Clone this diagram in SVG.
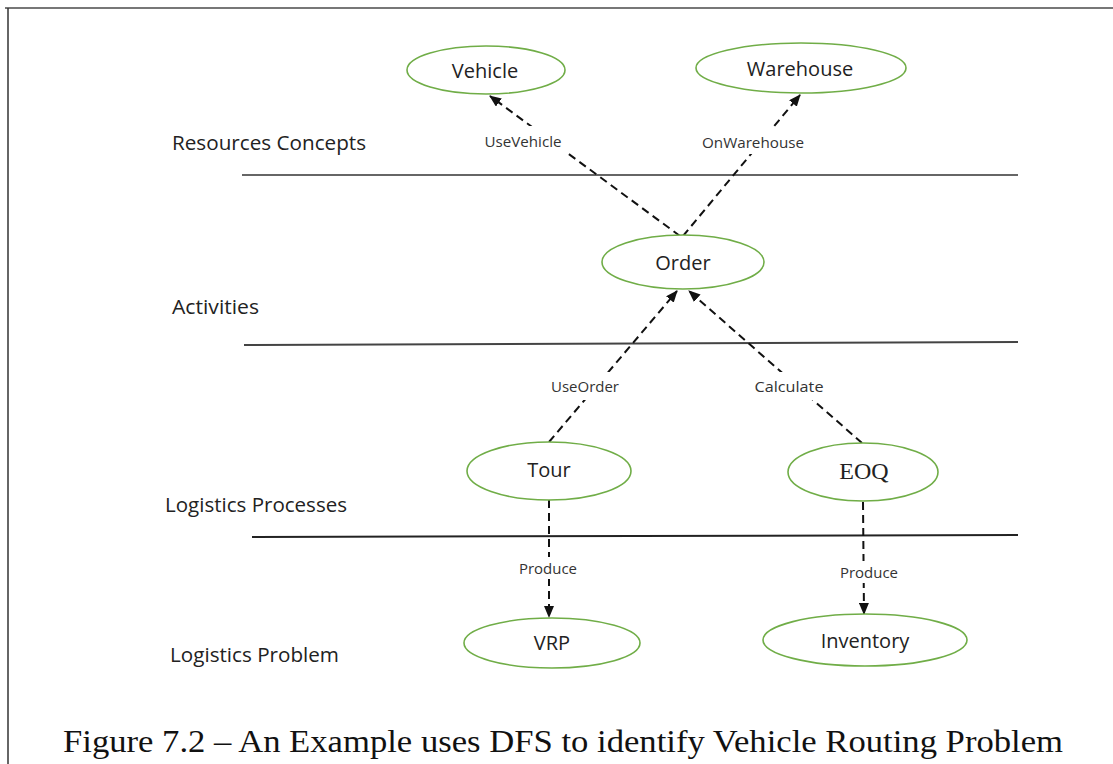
<svg xmlns="http://www.w3.org/2000/svg" width="1113" height="764" viewBox="0 0 1113 764">
<style>
.node{fill:#fff;stroke:#70ad47;stroke-width:1.6}
.nt{font-family:"Open Sans",sans-serif;font-size:20px;fill:#222;text-anchor:middle}
.lane{font-family:"Open Sans",sans-serif;font-size:20px;fill:#222}
.el{font-family:"Open Sans",sans-serif;font-size:15px;fill:#333;text-anchor:middle}
.edge{fill:none;stroke:#111;stroke-width:2;stroke-dasharray:8 5}
.sep{stroke:#666;stroke-width:2;fill:none}
.lbg{fill:#fff}
</style>
<defs>
<marker id="arr" viewBox="0 0 12 10" refX="11" refY="5" markerWidth="12" markerHeight="10" markerUnits="userSpaceOnUse" orient="auto">
<path d="M0,0 L12,5 L0,10 Z" fill="#111"/>
</marker>
</defs>
<rect width="1113" height="764" fill="#fff"/>
<g id="frame">
<line x1="5" y1="8" x2="1113" y2="8" stroke="#777" stroke-width="2"/>
<line x1="8" y1="8" x2="8" y2="764" stroke="#333" stroke-width="1.5"/>
</g>
<g id="lanes">
<line class="sep" x1="242" y1="175" x2="1018" y2="175" stroke="#888"/>
<line class="sep" x1="244" y1="345" x2="1018" y2="342" stroke-width="1.5" style="stroke:#444"/>
<line class="sep" x1="252" y1="537" x2="1018" y2="535" stroke-width="1.5" style="stroke:#222"/>
<text class="lane" x="172" y="150" textLength="194" lengthAdjust="spacingAndGlyphs">Resources Concepts</text>
<text class="lane" x="172" y="314" textLength="87" lengthAdjust="spacingAndGlyphs">Activities</text>
<text class="lane" x="165" y="512" textLength="182" lengthAdjust="spacingAndGlyphs">Logistics Processes</text>
<text class="lane" x="170" y="662" textLength="169" lengthAdjust="spacingAndGlyphs">Logistics Problem</text>
</g>
<g id="connectors">
<path class="edge" d="M680,236 L490,96" marker-end="url(#arr)"/>
<path class="edge" d="M683,236 L800,95" marker-end="url(#arr)"/>
<path class="edge" d="M549,442 L677,291" marker-end="url(#arr)"/>
<path class="edge" d="M862,443 L689,291" marker-end="url(#arr)"/>
<path class="edge" d="M549,500 L549,617" marker-end="url(#arr)"/>
<path class="edge" d="M863,502 L864,614" marker-end="url(#arr)"/>
<rect class="lbg" x="480" y="126" width="88" height="30"/>
<text class="el" x="523" y="147" textLength="77" lengthAdjust="spacingAndGlyphs">UseVehicle</text>
<rect class="lbg" x="698" y="128" width="110" height="26"/>
<text class="el" x="753" y="148" textLength="102" lengthAdjust="spacingAndGlyphs">OnWarehouse</text>
<rect class="lbg" x="546" y="372" width="80" height="28"/>
<text class="el" x="585" y="392" textLength="68" lengthAdjust="spacingAndGlyphs">UseOrder</text>
<rect class="lbg" x="750" y="372" width="78" height="28"/>
<text class="el" x="789" y="392" textLength="69" lengthAdjust="spacingAndGlyphs">Calculate</text>
<rect class="lbg" x="514" y="557" width="68" height="22"/>
<text class="el" x="548" y="574" textLength="58" lengthAdjust="spacingAndGlyphs">Produce</text>
<rect class="lbg" x="836" y="561" width="68" height="22"/>
<text class="el" x="869" y="578" textLength="58" lengthAdjust="spacingAndGlyphs">Produce</text>
</g>
<g id="node-vehicle">
<ellipse class="node" cx="486" cy="70" rx="79" ry="24"/>
<text class="nt" x="485" y="78">Vehicle</text>
</g>
<g id="node-warehouse">
<ellipse class="node" cx="801" cy="68" rx="105" ry="25"/>
<text class="nt" x="800" y="76">Warehouse</text>
</g>
<g id="node-order">
<ellipse class="node" cx="683" cy="262" rx="81" ry="27"/>
<text class="nt" x="683" y="270">Order</text>
</g>
<g id="node-tour">
<ellipse class="node" cx="549" cy="471" rx="82" ry="29"/>
<text class="nt" x="549" y="477">Tour</text>
</g>
<g id="node-eoq">
<ellipse class="node" cx="863" cy="472" rx="75" ry="29"/>
<text x="864" y="479" text-anchor="middle" font-family="'Liberation Serif',serif" font-size="24" fill="#222">EOQ</text>
</g>
<g id="node-vrp">
<ellipse class="node" cx="552" cy="643" rx="88" ry="25"/>
<text class="nt" x="552" y="650">VRP</text>
</g>
<g id="node-inventory">
<ellipse class="node" cx="865" cy="640" rx="102" ry="26"/>
<text class="nt" x="865" y="648">Inventory</text>
</g>
<text x="63" y="752" font-family="'Liberation Serif',serif" font-size="32" fill="#111" textLength="1000" lengthAdjust="spacingAndGlyphs">Figure 7.2 – An Example uses DFS to identify Vehicle Routing Problem</text>
</svg>
